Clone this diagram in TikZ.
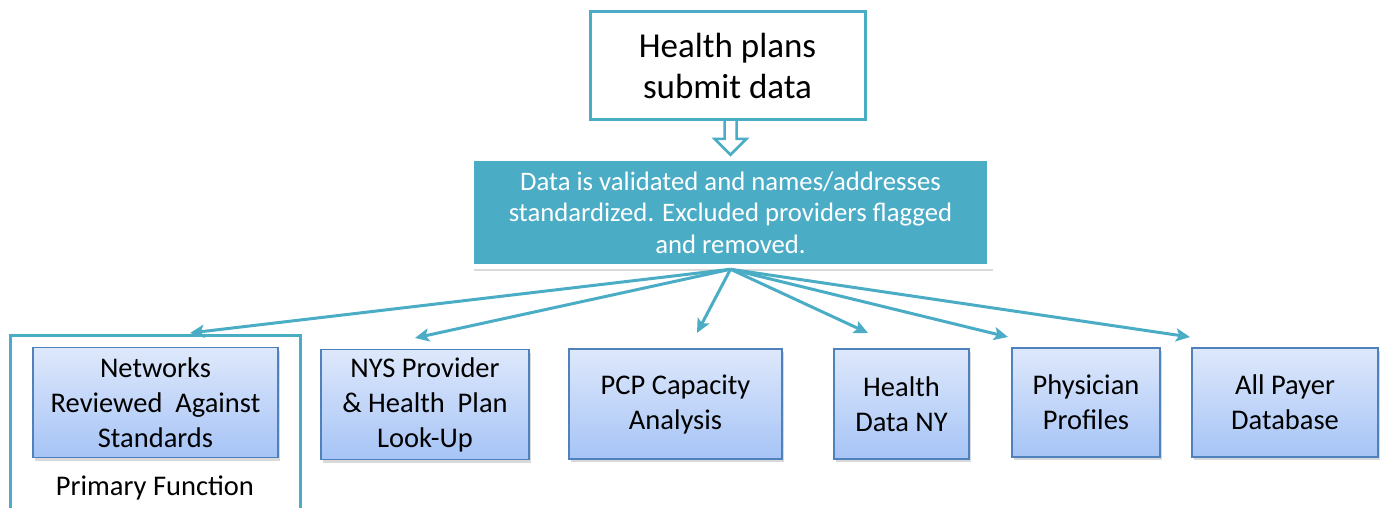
\documentclass[tikz,border=0pt]{standalone}
\usepackage{fontspec}
\setmainfont{Carlito}
\usetikzlibrary{arrows.meta,shadows,calc}
\definecolor{tealc}{RGB}{75,172,198}
\definecolor{boxline}{RGB}{79,129,189}
\definecolor{boxtop}{RGB}{222,232,251}
\definecolor{boxbot}{RGB}{166,196,246}

\begin{document}
\begin{tikzpicture}[x=1pt,y=-1pt,
    planbox/.style={draw=tealc,line width=3pt,fill=white,minimum width=275pt,minimum height=108pt,align=center,font=\fontsize{35}{41}\selectfont},
    cleanbox/.style={draw=white,line width=5.5pt,fill=tealc,text=white,minimum width=519pt,minimum height=108pt,align=center,font=\fontsize{26.7}{31.5}\selectfont,drop shadow={shadow xshift=3pt,shadow yshift=-4pt,opacity=0.3}},
    usebox/.style={draw=boxline,line width=1.3pt,top color=boxtop,bottom color=boxbot,minimum height=110pt,align=center,font=\fontsize{28.5}{35}\selectfont,drop shadow={shadow xshift=2pt,shadow yshift=-3pt,opacity=0.3}},
    feed/.style={draw=tealc,line width=3pt,-{Stealth[length=14pt,width=13pt,inset=3pt]}},
    hollow/.style={draw=tealc,line width=2.5pt,fill=white,line join=miter}]
            \useasboundingbox (0,0) rectangle (1380,508);
            \node[planbox] (plans) at (727.5,66) {Health plans\\submit data};
            \node[cleanbox] (clean) at (730.5,212.5) {Data is validated and names/addresses\\standardized. Excluded providers flagged\\and removed.};
            \draw[hollow] ($(clean.north)+(0,-1)$) -- ++(-16,-16) -- ++(10,0) -- ++(0,-19) -- ++(12,0) -- ++(0,19) -- ++(10,0) -- cycle;
            \draw[tealc,line width=3pt] (10,510) |- (300,335) -- (300,510);
            \node[usebox,minimum width=245pt] (net) at (155.5,402.5) {Networks\\Reviewed~~Against\\Standards};
            \node[font=\fontsize{28.5}{35}\selectfont] (primary) at (155,488) {Primary Function};
            \node[usebox,minimum width=208pt] (nys) at (425,404.5) {NYS Provider\\\& Health~~Plan\\Look-Up};
            \node[usebox,minimum width=213pt] (pcp) at (675.5,404) {PCP Capacity\\Analysis};
            \node[usebox,minimum width=135pt] (hdny) at (901.5,404) {Health\\Data NY};
            \node[usebox,minimum width=148pt,minimum height=109pt] (phys) at (1086,402.5) {Physician\\Profiles};
            \node[usebox,minimum width=186pt,minimum height=109pt] (apd) at (1285,402.5) {All Payer\\Database};
            \coordinate (netend) at (190,333);
            \coordinate (nysend) at (415,338);
            \coordinate (pcpend) at (697,333);
            \coordinate (hdnyend) at (868,333);
            \coordinate (physend) at (1008,337);
            \coordinate (apdend) at (1190,337);
            \foreach \t in {netend,nysend,pcpend,hdnyend,physend,apdend}
                \draw[feed] (clean.south) -- (\t);
\end{tikzpicture}
\end{document}
